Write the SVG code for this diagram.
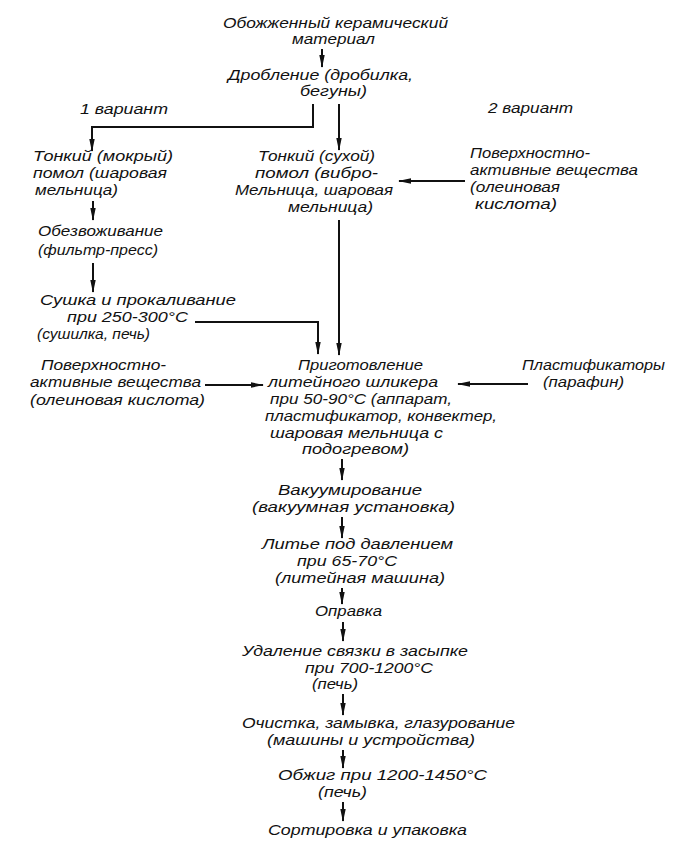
<svg xmlns="http://www.w3.org/2000/svg" width="680" height="855" viewBox="0 0 680 855">
<defs>
<marker id="ah" markerUnits="userSpaceOnUse" markerWidth="13" markerHeight="8" refX="12" refY="4" orient="auto">
<path d="M0,1.3 L13,4 L0,6.7 Z" fill="#111"/>
</marker>
<style>
text{font-family:"Liberation Sans","DejaVu Sans",sans-serif;font-style:italic;font-size:14.5px;fill:#111}
.c{fill:none;stroke:#111;stroke-width:2}
</style>
</defs>
<rect width="680" height="855" fill="#fff"/>
<g id="connectors">
<path class="c" marker-end="url(#ah)" d="M322,49 V67"/>
<path class="c" d="M313,104 V127 H92"/>
<path class="c" marker-end="url(#ah)" d="M92,126 V151"/>
<path class="c" marker-end="url(#ah)" d="M339,104 V150"/>
<path class="c" marker-end="url(#ah)" d="M465,181 H399"/>
<path class="c" marker-end="url(#ah)" d="M93,201 V220"/>
<path class="c" marker-end="url(#ah)" d="M93,263 V292"/>
<path class="c" d="M195,322 H318"/>
<path class="c" marker-end="url(#ah)" d="M318,321 V354"/>
<path class="c" marker-end="url(#ah)" d="M339,220 V355"/>
<path class="c" marker-end="url(#ah)" d="M205,385 H263"/>
<path class="c" marker-end="url(#ah)" d="M528,384 H458"/>
<path class="c" marker-end="url(#ah)" d="M342,459 V480"/>
<path class="c" marker-end="url(#ah)" d="M342,517 V538"/>
<path class="c" marker-end="url(#ah)" d="M342,588 V604"/>
<path class="c" marker-end="url(#ah)" d="M343,622 V641"/>
<path class="c" marker-end="url(#ah)" d="M343,694 V715"/>
<path class="c" marker-end="url(#ah)" d="M343,750 V768"/>
<path class="c" marker-end="url(#ah)" d="M343,802 V821"/>
</g>
<g id="n_material">
<text x="223" y="28" textLength="225" lengthAdjust="spacingAndGlyphs">Обожженный керамический</text>
<text x="292" y="44" textLength="83" lengthAdjust="spacingAndGlyphs">материал</text>
</g>
<g id="n_droblenie">
<text x="228" y="80" textLength="185" lengthAdjust="spacingAndGlyphs">Дробление (дробилка,</text>
<text x="300" y="96" textLength="67" lengthAdjust="spacingAndGlyphs">бегуны)</text>
</g>
<g id="n_v1"><text x="80" y="114" textLength="88" lengthAdjust="spacingAndGlyphs">1 вариант</text></g>
<g id="n_v2"><text x="488" y="113" textLength="85" lengthAdjust="spacingAndGlyphs">2 вариант</text></g>
<g id="n_mokry">
<text x="33" y="161" textLength="140" lengthAdjust="spacingAndGlyphs">Тонкий (мокрый)</text>
<text x="33" y="178" textLength="134" lengthAdjust="spacingAndGlyphs">помол (шаровая</text>
<text x="35" y="195" textLength="83" lengthAdjust="spacingAndGlyphs">мельница)</text>
</g>
<g id="n_suhoy">
<text x="258" y="161" textLength="117" lengthAdjust="spacingAndGlyphs">Тонкий (сухой)</text>
<text x="255" y="178" textLength="123" lengthAdjust="spacingAndGlyphs">помол (вибро-</text>
<text x="235" y="195" textLength="158" lengthAdjust="spacingAndGlyphs">Мельница, шаровая</text>
<text x="288" y="212" textLength="85" lengthAdjust="spacingAndGlyphs">мельница)</text>
</g>
<g id="n_pav1">
<text x="470" y="158" textLength="120" lengthAdjust="spacingAndGlyphs">Поверхностно-</text>
<text x="470" y="175" textLength="168" lengthAdjust="spacingAndGlyphs">активные вещества</text>
<text x="470" y="192" textLength="90" lengthAdjust="spacingAndGlyphs">(олеиновая</text>
<text x="475" y="209" textLength="82" lengthAdjust="spacingAndGlyphs">кислота)</text>
</g>
<g id="n_obezv">
<text x="38" y="236" textLength="125" lengthAdjust="spacingAndGlyphs">Обезвоживание</text>
<text x="38" y="255" textLength="120" lengthAdjust="spacingAndGlyphs">(фильтр-пресс)</text>
</g>
<g id="n_sushka">
<text x="40" y="305" textLength="196" lengthAdjust="spacingAndGlyphs">Сушка и прокаливание</text>
<text x="67" y="322" textLength="121" lengthAdjust="spacingAndGlyphs">при 250-300°С</text>
<text x="37" y="339" textLength="113" lengthAdjust="spacingAndGlyphs">(сушилка, печь)</text>
</g>
<g id="n_pav2">
<text x="41" y="370" textLength="125" lengthAdjust="spacingAndGlyphs">Поверхностно-</text>
<text x="30" y="387" textLength="171" lengthAdjust="spacingAndGlyphs">активные вещества</text>
<text x="30" y="405" textLength="175" lengthAdjust="spacingAndGlyphs">(олеиновая кислота)</text>
</g>
<g id="n_shliker">
<text x="298" y="370" textLength="125" lengthAdjust="spacingAndGlyphs">Приготовление</text>
<text x="268" y="387" textLength="170" lengthAdjust="spacingAndGlyphs">литейного шликера</text>
<text x="270" y="404" textLength="182" lengthAdjust="spacingAndGlyphs">при 50-90°С (аппарат,</text>
<text x="265" y="421" textLength="232" lengthAdjust="spacingAndGlyphs">пластификатор, конвектер,</text>
<text x="270" y="438" textLength="173" lengthAdjust="spacingAndGlyphs">шаровая мельница с</text>
<text x="302" y="454" textLength="107" lengthAdjust="spacingAndGlyphs">подогревом)</text>
</g>
<g id="n_plast">
<text x="522" y="370" textLength="143" lengthAdjust="spacingAndGlyphs">Пластификаторы</text>
<text x="543" y="387" textLength="81" lengthAdjust="spacingAndGlyphs">(парафин)</text>
</g>
<g id="n_vakuum">
<text x="278" y="495" textLength="144" lengthAdjust="spacingAndGlyphs">Вакуумирование</text>
<text x="252" y="512" textLength="203" lengthAdjust="spacingAndGlyphs">(вакуумная установка)</text>
</g>
<g id="n_lite">
<text x="262" y="549" textLength="191" lengthAdjust="spacingAndGlyphs">Литье под давлением</text>
<text x="297" y="566" textLength="100" lengthAdjust="spacingAndGlyphs">при 65-70°С</text>
<text x="275" y="583" textLength="170" lengthAdjust="spacingAndGlyphs">(литейная машина)</text>
</g>
<g id="n_opravka"><text x="315" y="616" textLength="67" lengthAdjust="spacingAndGlyphs">Оправка</text></g>
<g id="n_udalenie">
<text x="242" y="656" textLength="226" lengthAdjust="spacingAndGlyphs">Удаление связки в засыпке</text>
<text x="305" y="673" textLength="128" lengthAdjust="spacingAndGlyphs">при 700-1200°С</text>
<text x="312" y="689" textLength="46" lengthAdjust="spacingAndGlyphs">(печь)</text>
</g>
<g id="n_ochistka">
<text x="242" y="728" textLength="273" lengthAdjust="spacingAndGlyphs">Очистка, замывка, глазурование</text>
<text x="267" y="745" textLength="208" lengthAdjust="spacingAndGlyphs">(машины и устройства)</text>
</g>
<g id="n_obzhig">
<text x="278" y="780" textLength="209" lengthAdjust="spacingAndGlyphs">Обжиг при 1200-1450°С</text>
<text x="318" y="797" textLength="49" lengthAdjust="spacingAndGlyphs">(печь)</text>
</g>
<g id="n_sort"><text x="268" y="835" textLength="199" lengthAdjust="spacingAndGlyphs">Сортировка и упаковка</text></g>
</svg>
